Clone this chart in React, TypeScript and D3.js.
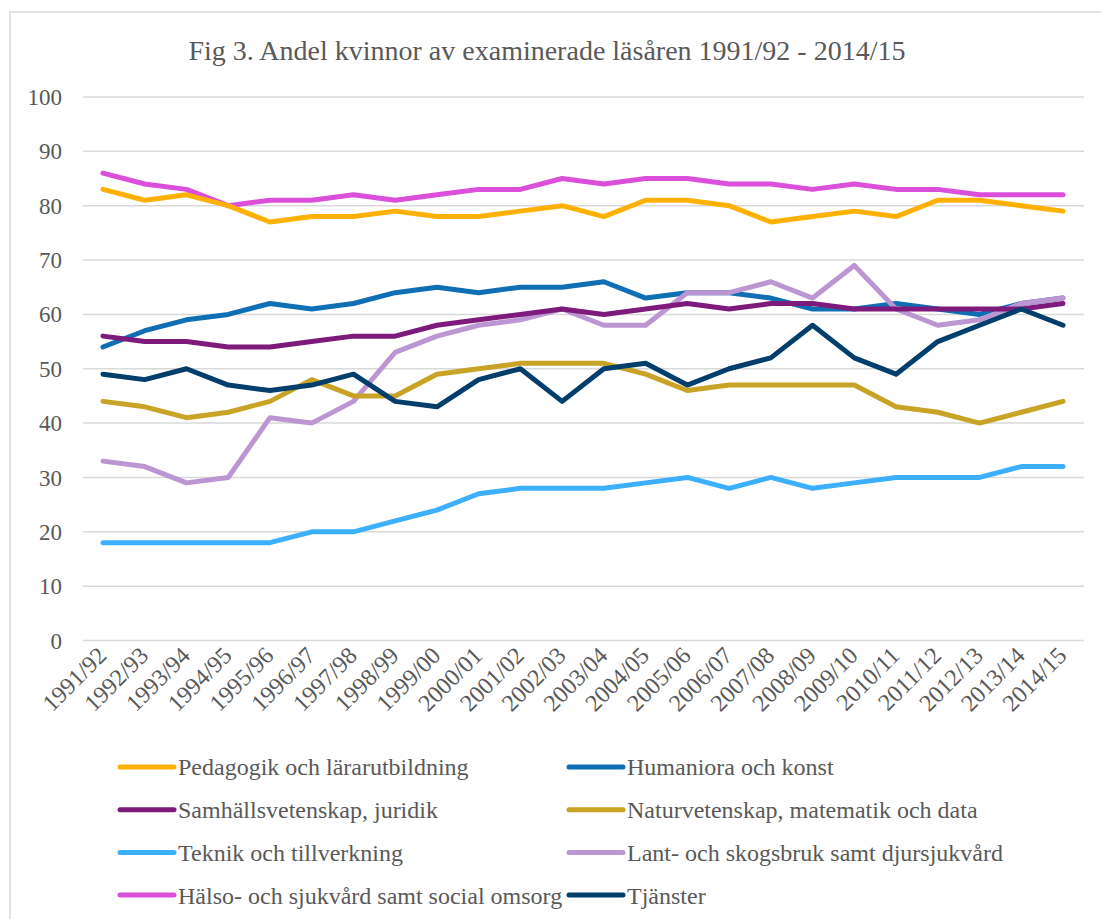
import * as d3 from 'd3'

const years = [
  '1991/92', '1992/93', '1993/94', '1994/95', '1995/96', '1996/97', '1997/98', '1998/99',
  '1999/00', '2000/01', '2001/02', '2002/03', '2003/04', '2004/05', '2005/06', '2006/07',
  '2007/08', '2008/09', '2009/10', '2010/11', '2011/12', '2012/13', '2013/14', '2014/15'
]

const pedagogik = [83, 81, 82, 80, 77, 78, 78, 79, 78, 78, 79, 80, 78, 81, 81, 80, 77, 78, 79, 78, 81, 81, 80, 79]
const humaniora = [54, 57, 59, 60, 62, 61, 62, 64, 65, 64, 65, 65, 66, 63, 64, 64, 63, 61, 61, 62, 61, 60, 62, 63]
const samhall = [56, 55, 55, 54, 54, 55, 56, 56, 58, 59, 60, 61, 60, 61, 62, 61, 62, 62, 61, 61, 61, 61, 61, 62]
const naturvet = [44, 43, 41, 42, 44, 48, 45, 45, 49, 50, 51, 51, 51, 49, 46, 47, 47, 47, 47, 43, 42, 40, 42, 44]
const teknik = [18, 18, 18, 18, 18, 20, 20, 22, 24, 27, 28, 28, 28, 29, 30, 28, 30, 28, 29, 30, 30, 30, 32, 32]
const lantbruk = [33, 32, 29, 30, 41, 40, 44, 53, 56, 58, 59, 61, 58, 58, 64, 64, 66, 63, 69, 61, 58, 59, 62, 63]
const halso = [86, 84, 83, 80, 81, 81, 82, 81, 82, 83, 83, 85, 84, 85, 85, 84, 84, 83, 84, 83, 83, 82, 82, 82]
const tjanster = [49, 48, 50, 47, 46, 47, 49, 44, 43, 48, 50, 44, 50, 51, 47, 50, 52, 58, 52, 49, 55, 58, 61, 58]

const yTicks = [0, 10, 20, 30, 40, 50, 60, 70, 80, 90, 100]

// legend order (row by row, two columns)
const series = [
  { name: 'Pedagogik och lärarutbildning', values: pedagogik, color: '#FFB000' },
  { name: 'Humaniora och konst', values: humaniora, color: '#0F6FB5' },
  { name: 'Samhällsvetenskap, juridik', values: samhall, color: '#7E1A7B' },
  { name: 'Naturvetenskap, matematik och data', values: naturvet, color: '#C9A326' },
  { name: 'Teknik och tillverkning', values: teknik, color: '#3CB0FF' },
  { name: 'Lant- och skogsbruk samt djursjukvård', values: lantbruk, color: '#BB96D2' },
  { name: 'Hälso- och sjukvård samt social omsorg', values: halso, color: '#DB4FDB' },
  { name: 'Tjänster', values: tjanster, color: '#003F6C' }
]

// drawing order so overlaps look like the original
const drawOrder = [6, 0, 1, 5, 2, 3, 7, 4]

const W = 1101
const H = 919
const font = '"Liberation Serif", "Times New Roman", serif'
const textColor = '#595959'

export default function App() {
  const x = d3.scalePoint<string>().domain(years).range([103, 1063])
  const y = d3.scaleLinear().domain([0, 100]).range([640.5, 97])

  const line = d3
    .line<number>()
    .x((_, i) => x(years[i]) as number)
    .y(d => y(d))

  return (
    <svg width={W} height={H} style={{ position: 'absolute', left: 0, top: 0, background: '#fff' }}>
      <rect x={10} y={12} width={1200} height={1000} fill="#fff" stroke="#d9d9d9" strokeWidth={1.5} />

      <text x={547} y={60} textAnchor="middle" fontFamily={font} fontSize={28} fill={textColor}>
        Fig 3. Andel kvinnor av examinerade läsåren 1991/92 - 2014/15
      </text>

      {yTicks.map(t => (
        <g key={t}>
          <line x1={83} x2={1084} y1={y(t)} y2={y(t)} stroke="#d9d9d9" strokeWidth={1.5} />
          <text x={62} y={y(t)} dy="0.35em" textAnchor="end" fontFamily={font} fontSize={23} fill={textColor}>
            {t}
          </text>
        </g>
      ))}

      {years.map(yr => (
        <text
          key={yr}
          transform={`translate(${(x(yr) as number) + 5},${657}) rotate(-45)`}
          textAnchor="end"
          fontFamily={font}
          fontSize={24}
          fill={textColor}
        >
          {yr}
        </text>
      ))}

      {drawOrder.map(i => (
        <path
          key={series[i].name}
          d={line(series[i].values) ?? ''}
          fill="none"
          stroke={series[i].color}
          strokeWidth={5}
          strokeLinejoin="round"
          strokeLinecap="round"
        />
      ))}

      {series.map((s, i) => {
        const col = i % 2
        const row = Math.floor(i / 2)
        const lx = col === 0 ? 120 : 569
        const ly = 767 + row * 42.7
        return (
          <g key={s.name}>
            <line x1={lx} x2={lx + 54} y1={ly} y2={ly} stroke={s.color} strokeWidth={5} strokeLinecap="round" />
            <text x={lx + 58} y={ly} dy="0.35em" fontFamily={font} fontSize={24} fill={textColor}>
              {s.name}
            </text>
          </g>
        )
      })}
    </svg>
  )
}
